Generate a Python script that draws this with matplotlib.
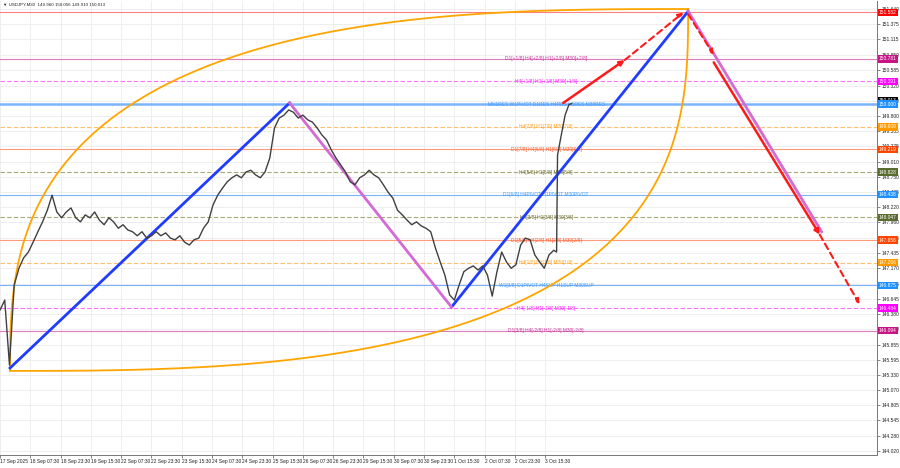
import numpy as np
import matplotlib
matplotlib.use("Agg")
import matplotlib.pyplot as plt
from matplotlib.transforms import blended_transform_factory
from matplotlib import font_manager

# =========================
# DATA
# =========================
bars = [0, 5, 10, 15, 20, 25, 30, 35, 40, 45, 50, 55, 60, 65, 70, 75, 80, 85, 90, 95,
        100, 105, 110, 115, 120, 125, 130, 135, 140, 145, 150, 155, 160, 165, 170, 175,
        180, 185, 190, 195, 200, 205, 210, 215, 220, 225, 230, 235, 240, 245, 250, 255,
        260, 265, 270, 275, 280, 285, 290, 295, 300, 305, 310, 315, 320, 325, 330, 335,
        340, 345, 350, 355, 360, 365, 370, 375, 380, 385, 390, 395, 400, 405, 410, 415,
        420, 425, 430, 435, 440, 445, 450, 455, 460, 465, 470, 475, 480, 485, 490, 495,
        500, 505, 510, 515, 520, 525, 530, 535, 540, 545, 550, 555, 560, 565, 570, 575,
        580, 585, 588, 589, 593, 597, 601, 604]
closes = [146.45, 146.62, 145.50, 146.88, 147.17, 147.35, 147.45, 147.62, 147.80, 147.97,
          148.17, 148.43, 148.14, 148.04, 148.14, 148.21, 148.04, 147.97, 148.09, 148.04,
          148.14, 148.00, 147.92, 148.04, 147.97, 147.86, 147.92, 147.83, 147.80, 147.73,
          147.80, 147.69, 147.73, 147.80, 147.73, 147.78, 147.69, 147.66, 147.73, 147.62,
          147.57, 147.66, 147.69, 147.86, 147.97, 148.26, 148.43, 148.55, 148.66, 148.73,
          148.78, 148.73, 148.83, 148.86, 148.78, 148.73, 148.83, 149.07, 149.59, 149.76,
          149.81, 149.90, 149.86, 149.76, 149.81, 149.73, 149.69, 149.59, 149.47, 149.38,
          149.21, 149.07, 148.95, 148.83, 148.66, 148.61, 148.73, 148.78, 148.86, 148.78,
          148.73, 148.61, 148.48, 148.38, 148.17, 148.09, 148.00, 147.92, 147.97, 147.90,
          147.86, 147.80, 147.52, 147.28, 147.05, 146.71, 146.62, 146.88, 147.11, 147.17,
          147.21, 147.14, 147.21, 147.05, 146.69, 147.11, 147.45, 147.28, 147.17, 147.23,
          147.57, 147.69, 147.66, 147.40, 147.28, 147.17, 147.40, 147.48, 147.45, 149.12,
          149.47, 149.81, 149.99, 150.01]

time_ticks = [0, 32, 64, 96, 128, 160, 192, 224, 256, 288, 320, 352, 384, 416, 448,
              480, 512, 544, 576]
time_labels = ["17 Sep 2025", "18 Sep 07:30", "18 Sep 23:30", "19 Sep 15:30",
               "22 Sep 07:30", "22 Sep 23:30", "23 Sep 15:30", "24 Sep 07:30",
               "24 Sep 23:30", "25 Sep 15:30", "26 Sep 07:30", "26 Sep 23:30",
               "29 Sep 15:30", "30 Sep 07:30", "30 Sep 23:30", "1 Oct 15:30",
               "2 Oct 07:30", "2 Oct 23:30", "3 Oct 15:30"]

price_ticks = ["151.640", "151.375", "151.115", "150.850", "150.585", "150.320",
               "150.060", "149.800", "149.535", "149.275", "149.010", "148.750",
               "148.485", "148.220", "147.960", "147.695", "147.435", "147.170",
               "146.905", "146.645", "146.380", "146.120", "145.855", "145.595",
               "145.330", "145.070", "144.805", "144.545", "144.280", "144.020"]

# Murrey math levels: price, label, kind
level_prices = [150.781, 150.391, 150.000, 149.609, 149.219, 148.828, 148.438,
                148.047, 147.656, 147.266, 146.875, 146.484, 146.094]
level_texts = ["D1[+1/8] H4[+2/8] H1[+2/8] M30[+2/8]",
               "H4[+1/8] H1[+1/8] M30[+1/8]",
               "MN1RES W1PIVOT D1RES H4RES H1RES M30RES",
               "H4[7/8] H1[7/8] M30[7/8]",
               "D1[7/8] H4[6/8] H1[6/8] M30[6/8]",
               "H4[5/8] H1[5/8] M30[5/8]",
               "D1[6/8] H4PIVOT H1PIVOT M30PIVOT",
               "H4[3/8] H1[3/8] M30[3/8]",
               "D1[5/8] H4[2/8] H1[2/8] M30[2/8]",
               "H4[1/8] H1[1/8] M30[1/8]",
               "W1[3/8] D1PIVOT H4SUP H1SUP M30SUP",
               "H4[-1/8] H1[-1/8] M30[-1/8]",
               "D1[3/8] H4[-2/8] H1[-2/8] M30[-2/8]"]
level_kinds = ["d1", "mag", "res", "orange", "ored", "olive", "blue",
               "olive", "ored", "orange", "blue", "mag", "d1"]

top_line = 151.582
last_price = 150.013

# trend lines (bar, price)
blue_lines = [((10.6, 145.45), (306, 150.02)), ((477, 146.50), (727, 151.60))]
pink_lines = [((306, 150.02), (477, 146.50)), ((727, 151.60), (868, 147.80))]
red_solid = [((595, 150.02), (660, 150.76)), ((754, 150.72), (866, 147.75))]
red_dashed = [((660, 150.76), (722, 151.58)), ((727, 151.55), (754, 150.85)),
              ((866, 147.75), (908, 146.55))]

# curved (orange) object: two corner anchors and a squareness exponent
arc_a = (10.6, 145.40)
arc_b = (727, 151.64)
arc_n = 2.8

# =========================
# STYLE
# =========================
line_col = {"d1": "#e07cc0", "mag": "#ff70ff", "res": "#7ab4ff", "orange": "#ffbf70",
            "ored": "#ff9a7a", "olive": "#a8a878", "blue": "#7ab4ff"}
text_col = {"d1": "#cc3399", "mag": "#ff22ff", "res": "#3d9bff", "orange": "#ff9f1a",
            "ored": "#ff5a2a", "olive": "#6e6e30", "blue": "#3d9bff"}
box_col = {"d1": "#c71585", "mag": "#ff00ff", "res": "#1e90ff", "orange": "#ff9900",
           "ored": "#ff4500", "olive": "#5a6b2f", "blue": "#1e90ff"}
dashed = {"mag", "orange", "olive"}

names = {f.name for f in font_manager.fontManager.ttflist}
narrow = "Liberation Sans Narrow" if "Liberation Sans Narrow" in names else "Liberation Sans"
plt.rcParams["font.family"] = [narrow, "DejaVu Sans"]
FS = 3.5

fig = plt.figure(figsize=(9, 4.68), dpi=100)
ax = fig.add_axes([0, 13 / 468, 877 / 900, 454 / 468])
ax.set_xlim(0, 926.5)
ax.set_ylim(143.95, 151.778)

# grid
ax.set_axisbelow(True)
ax.grid(True, color="#ebebeb", linewidth=0.6)

# levels
tr = blended_transform_factory(ax.transAxes, ax.transData)
box = dict(boxstyle="square,pad=0.25", ec="none")
for p, t, k in zip(level_prices, level_texts, level_kinds):
    ax.axhline(p, color=line_col[k], lw=1.8 if k == "res" else 0.8,
               ls=(0, (4, 2)) if k in dashed else "-", zorder=1)
    ax.text(577, p, t, color=text_col[k], fontsize=3.5, ha="center", va="center", zorder=2)
    ax.text(1.002, p, f"{p:.3f}", transform=tr, color="white", fontsize=FS,
            ha="left", va="center", zorder=6, clip_on=False, bbox=dict(box, fc=box_col[k]))

ax.axhline(top_line, color="#ff8080", lw=0.8, zorder=1)
ax.text(1.002, top_line, f"{top_line:.3f}", transform=tr, color="white", fontsize=FS,
        ha="left", va="center", zorder=6, clip_on=False, bbox=dict(box, fc="#ff0000"))
ax.text(1.002, last_price + 0.05, f"{last_price:.3f}", transform=tr, color="white",
        fontsize=FS, ha="left", va="center", zorder=5, clip_on=False,
        bbox=dict(box, fc="black"))

# orange curve: upper arc around lower-right corner, lower arc around upper-left corner
s = np.linspace(0, np.pi / 2, 200)
cs = np.cos(s) ** (2 / arc_n)
sn = np.sin(s) ** (2 / arc_n)
dx = arc_b[0] - arc_a[0]
dy = arc_b[1] - arc_a[1]
ax.plot(arc_b[0] - dx * cs, arc_a[1] + dy * sn, color="#ffa500", lw=1.3, zorder=3)
ax.plot(arc_a[0] + dx * cs, arc_b[1] - dy * sn, color="#ffa500", lw=1.3, zorder=3)

# price
ax.plot(bars, closes, color="#404040", lw=1.0, zorder=4)

# trend lines
for (a, b) in blue_lines:
    ax.plot([a[0], b[0]], [a[1], b[1]], color="#1f3cff", lw=2, zorder=3)
for (a, b) in pink_lines:
    ax.plot([a[0], b[0]], [a[1], b[1]], color="#d46ad4", lw=2, zorder=3)
for (a, b) in red_solid:
    ax.annotate("", xy=b, xytext=a, zorder=5,
                arrowprops=dict(arrowstyle="-|>", color="#ff1a1a", lw=1.8,
                                mutation_scale=7, shrinkA=0, shrinkB=0))
for (a, b) in red_dashed:
    ax.annotate("", xy=b, xytext=a, zorder=5,
                arrowprops=dict(arrowstyle="-|>", color="#ff1a1a", lw=1.5, ls=(0, (3, 2)),
                                mutation_scale=7, shrinkA=0, shrinkB=0))

# axes
ax.yaxis.tick_right()
ax.set_yticks([float(v) for v in price_ticks])
ax.set_yticklabels(price_ticks)
ax.set_xticks(time_ticks)
ax.set_xticklabels(time_labels, ha="left")
ax.tick_params(axis="both", labelsize=FS, length=2, width=0.5, color="#555555",
               pad=1.2, labelcolor="#222222")
for sp in ["left", "top"]:
    ax.spines[sp].set_visible(False)
for sp in ["right", "bottom"]:
    ax.spines[sp].set_color("#777777")
    ax.spines[sp].set_linewidth(0.7)

fig.text(3 / 900, 1 - 5 / 468, "\u25bc USDJPY,M30  149.960 150.056 149.910 150.013",
         fontsize=3.2, va="center", ha="left", color="#222222")

fig.savefig("out.png", dpi=100, facecolor="white")
